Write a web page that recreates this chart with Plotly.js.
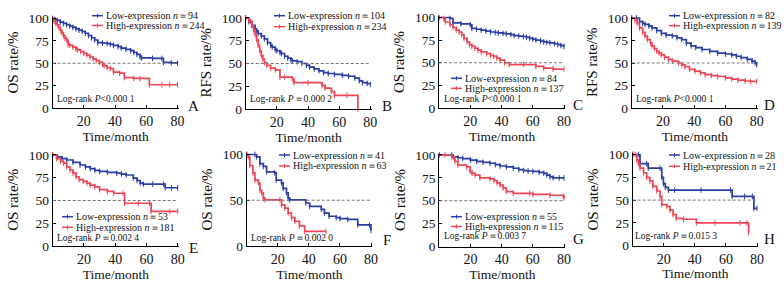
<!DOCTYPE html>
<html>
<head>
<meta charset="utf-8">
<script src="https://cdn.plot.ly/plotly-3.0.1.min.js"></script>
<style>html,body{margin:0;padding:0;background:#fff}#chart{width:784px;height:283px}</style>
</head>
<body>
<div id="chart"></div>
<script>
// ---------- DATA (time in months, survival %) ----------
const panelLetters = ["A","B","C","D","E","F","G","H"];
const yTitles = ["OS rate/%","RFS rate/%","OS rate/%","RFS rate/%","OS rate/%","OS rate/%","OS rate/%","OS rate/%"];
const lowN  = [94, 104, 84, 82, 53, 41, 55, 28];
const highN = [244, 234, 137, 139, 181, 63, 115, 21];
const pTexts = ["&lt;0.000 1","＝0.000 2","&lt;0.000 1","&lt;0.000 1","＝0.002 4","＝0.002 0","＝0.003 7","＝0.015 3"];
const xTicks = [20, 40, 60, 80];
const yTicksFull = [0, 25, 50, 75, 100];
const yTicksF = [0, 50, 100];

const A_low_t  = [0,1.5,3,5,7,9,11,13,15,17,19,21,23,25,27,29,32,35,37,39,42,44,47,50,52,54,56,57,64,70,71,76,80];
const A_low_s  = [100,99,98,96,94.5,93,91.5,90,88.5,87,85.5,83.5,81,78.5,76,73,72.5,72,71,70,68.5,67,65.5,64,62,60,57,56,55.5,55.5,51,50.5,50];
const A_high_t = [0,1,2,3,4,5,6,7,8,9,10,11,13,15,16,18,20,22,24,26,28,30,32,33,35,37,39,43,46,52,56,62,70,75,80];
const A_high_s = [100,97,95,93,90,87,84,81,78,76,71,70,68,66,65,63,61,59,57,55,53,51,49,47,45,44,40,39,34,33,33,26,26,26,26];

const B_low_t  = [0,2,4,6,7,8,10,12,14,16,17,19,20,22,23,25,27,29,30,33,36,39,41,44,47,50,53,57,62,66,70,73,75,78,80];
const B_low_s  = [100,96,92,88,86,83,80,77,73,70,68,65,64,62,61,58,56,54,53,52,50,48,46,44,42,40,39,38,37,36,34,31,29,28,27];
const B_high_t = [0,2,3,4,5,6,7,8,9,10,11,12,13.5,16,19,22,25,30,31,40,49,51,55,57,65,72];
const B_high_s = [100,98,96,92,87,82,76,70,64,59,55,51,48,45,43,35,35,33,29,29,26,23,19,15,15,0];

const C_low_t  = [0,7,9,14,20,21,24,27,30,33,36,38,41,43,46,48,51,54,56,58,60,62,65,67,69,71,74,76,78,80];
const C_low_s  = [100,99,94,93,92,88,87,86,85,84,83.5,83,82.5,82,81,80,79.5,79,78,77,76,75,74,73,72.5,72,71,70,69,68];
const C_high_t = [0,3,4,7,9,11,13,14.5,16,18,19.5,21,23,25,27,30.5,33,35,37,39,42,45,54,62,67,73,80];
const C_high_s = [100,99,95,92,89,86,84,81,77,73,70,68,66,64,62,60,58,57,55,53,50,48,48,46,44,43,43];

const D_low_t  = [0,3,5,7,8.5,11,13,16,19,22,26,29,32,35,38,41,45,50,55,60,64,67,70,74,77,79,80];
const D_low_s  = [100,100,96,94,93,91,89,86,83,81,80,78,76,72,69,67,65,63,61,60,59,57.5,56,54,52,50,48];
const D_high_t = [0,2,3.5,5,7,8.5,10,12,13,14.5,16,17.5,19,21,23.5,26,30,32,34,37,40.5,44,47,51,55,60,64,68,72.5,76,80];
const D_high_s = [100,98,94,89,84,80,76,72,69,66,63,61,59,56.5,54,52,50,48,46,43,41,39,37,36,35,33.5,32,31,30,29.5,29.5];

const E_low_t  = [0,3,6,9,13,17.5,21,24,27,30,35,41,44,47,51.6,54,56,58,64,71,72,76,80];
const E_low_s  = [100,98,96,94.5,92,89,87,85,83,82,81,80,79,78,74.7,72,69,68,68,68,64,64,64];
const E_high_t = [0,2.5,5,7,9,11,13,15,17,19.6,22,24,27,30,35,39,45,46,55,62,63,75,80];
const E_high_s = [100,96,93,91,87,83.5,80,76,73,71,69,67,65,62,60,58,58,47,47,47,38,38,38];

const F_low_t  = [0,5.3,6.4,8.5,10.7,12.8,18,19,22.4,23.5,25.6,26.7,27.7,38,40.5,48,50,53,57.6,60,65,71.5,79,80];
const F_low_s  = [100,100,97.5,90,87,81,80,72,69,63,58,52,50.5,47,43.3,40,36,32.5,31,30,29,23,23,17];
const F_high_t = [0,1,2,4,5.3,7.5,8.5,9.6,10.7,11.7,21.3,22.4,24.5,26.7,28.8,31,34,37.3,51];
const F_high_s = [100,97.5,88,80,72,69,61,58,52,50.5,50.5,45,41.5,36,31,27,22,16,16];

const G_low_t  = [0,8,9,12,15,20,24,28,32.5,36,39,43,47.5,51,54,57,60,64,67,69,71,73,77,80];
const G_low_s  = [100,100,98,97,96,94.5,93,92,91,89.5,88,87,85.5,84,83,82.5,82,81,80,78,76,75,75,75];
const G_high_t = [0,3.6,8,10,12,17.5,19.7,21,23,26,32.5,35,37,39,41,43,47.5,58,60,71,79.5,80];
const G_high_s = [100,100,98,93,89,87,82,80,78,75,74,72,69.5,67,64,60,58,58,57,56,55,53];

const H_low_t  = [0,3.7,4.7,9,10,17.6,18.7,19.8,21,23,27,44,63,64,72,77,78,80];
const H_low_s  = [100,100,90,90,85,85,75,68,64,61,61,61,61,54,54,54,41,41];
const H_high_t = [0,1.5,2.6,3.7,4.7,7,9,11,13,15.5,17.6,18.7,22,24,26,28,32.7,41,53,69,73.5,74.6];
const H_high_s = [100,100,94,90,85,80,75,71,65,60,54,45,43,39,34,30,29,25,25,25,25,14];

const lowT  = [A_low_t,B_low_t,C_low_t,D_low_t,E_low_t,F_low_t,G_low_t,H_low_t];
const lowS  = [A_low_s,B_low_s,C_low_s,D_low_s,E_low_s,F_low_s,G_low_s,H_low_s];
const highT = [A_high_t,B_high_t,C_high_t,D_high_t,E_high_t,F_high_t,G_high_t,H_high_t];
const highS = [A_high_s,B_high_s,C_high_s,D_high_s,E_high_s,F_high_s,G_high_s,H_high_s];

// ---------- LAYOUT GEOMETRY (pixels) ----------
const W = 784, H = 283;
const geo = [
  {x0:52.5, x1:177.5, yT:18.5, yB:108,  leg:{x:93, y1:15.7, y2:25.5}, lr:{x:55, y:98.5},  let:{x:193, y:106}},
  {x0:245.7,x1:370.3, yT:18,   yB:109,  leg:{x:275,y1:15.7, y2:26.7}, lr:{x:248,y:98.5},  let:{x:387, y:106}},
  {x0:439,  x1:564,   yT:17.5, yB:108,  leg:{x:452,y1:78.3, y2:88.3}, lr:{x:442,y:98.5},  let:{x:578, y:105}},
  {x0:631.7,x1:756.7, yT:18,   yB:108,  leg:{x:670,y1:15.7, y2:25.7}, lr:{x:634,y:98.5},  let:{x:769, y:105}},
  {x0:52.7, x1:177.7, yT:155,  yB:246,  leg:{x:63, y1:216.7,y2:227.3},lr:{x:55, y:237.7}, let:{x:193, y:247.5}},
  {x0:246.7,x1:371,   yT:154.5,yB:246,  leg:{x:280,y1:155,  y2:166},  lr:{x:249,y:237.5}, let:{x:387, y:240}},
  {x0:439.3,x1:564,   yT:155,  yB:246.5,leg:{x:452,y1:216.7,y2:226.5},lr:{x:442,y:235.5}, let:{x:578, y:239}},
  {x0:632.7,x1:757,   yT:154.5,yB:245.7,leg:{x:670,y1:155,  y2:166.3},lr:{x:633,y:236},   let:{x:769, y:239}}
];
const BLUE = "#2a3ea6", RED = "#ef4656";
const FONT = "Liberation Serif, Times New Roman, serif";
const XMAX = 80.8, YMAX = 101.5;

const px = x => x / W;
const py = y => 1 - y / H;

const traces = [];
const layout = {
  width: W, height: H,
  margin: {l:0, r:0, t:0, b:0},
  paper_bgcolor: "#fff", plot_bgcolor: "#fff",
  showlegend: false,
  font: {family: FONT, color: "#111"},
  annotations: [], shapes: []
};

geo.forEach((g, i) => {
  const k = i + 1;
  const xa = "xaxis" + (k === 1 ? "" : k), ya = "yaxis" + (k === 1 ? "" : k);
  const xr = "x" + (k === 1 ? "" : k), yr = "y" + (k === 1 ? "" : k);
  const pxPerX = (g.x1 - g.x0) / 80, pxPerY = (g.yB - g.yT) / 100;
  const xRight = g.x0 + XMAX * pxPerX, yTop = g.yB - YMAX * pxPerY;
  layout[xa] = {
    domain: [px(g.x0), px(xRight)], range: [0, XMAX], anchor: yr,
    showline: true, linecolor: "#000", linewidth: 1, showgrid: false, zeroline: false,
    ticks: "inside", ticklen: 3, tickcolor: "#000", tickvals: xTicks,
    tickfont: {family: FONT, size: 14, color: "#111"},
    title: {text: "Time/month", font: {family: FONT, size: 13.5, color: "#111"}, standoff: 2}
  };
  const yt = (i === 5) ? yTicksF : yTicksFull;
  layout[ya] = {
    domain: [py(g.yB), py(yTop)], range: [0, YMAX], anchor: xr,
    showline: true, linecolor: "#000", linewidth: 1, showgrid: false, zeroline: false,
    ticks: "inside", ticklen: 3, tickcolor: "#000", tickvals: yt,
    tickfont: {family: FONT, size: 13.5, color: "#111"},
    title: {text: yTitles[i], font: {family: FONT, size: 15, color: "#111"}, standoff: 6}
  };
  // reference dashed line at 50%
  layout.shapes.push({type: "line", xref: xr, yref: yr, x0: 0, x1: 80, y0: 50, y1: 50,
    line: {color: "#777", width: 1, dash: "3px,2px"}});

  [[lowT[i], lowS[i], BLUE], [highT[i], highS[i], RED]].forEach(([t, s, c]) => {
    traces.push({type: "scatter", mode: "lines+markers", x: t, y: s, xaxis: xr, yaxis: yr,
      line: {shape: "hv", color: c, width: 1.7},
      marker: {symbol: "line-ns", size: 4, line: {color: c, width: 1}, color: c},
      cliponaxis: false, hoverinfo: "skip"});
  });

  // legend (drawn manually)
  const legs = [[g.leg.y1, BLUE, "Low-expression <i>n</i>＝" + lowN[i]],
                [g.leg.y2, RED, "High-expression <i>n</i>＝" + highN[i]]];
  legs.forEach(([y, c, txt]) => {
    layout.shapes.push({type: "line", xref: "paper", yref: "paper",
      x0: px(g.leg.x - 1), x1: px(g.leg.x + 10), y0: py(y), y1: py(y), line: {color: c, width: 1.5}});
    layout.shapes.push({type: "line", xref: "paper", yref: "paper",
      x0: px(g.leg.x + 4.5), x1: px(g.leg.x + 4.5), y0: py(y - 2), y1: py(y + 2), line: {color: c, width: 1}});
    layout.annotations.push({xref: "paper", yref: "paper", x: px(g.leg.x + 10.5), y: py(y),
      xanchor: "left", yanchor: "middle", showarrow: false, text: txt,
      font: {family: FONT, size: 10, color: "#111"}});
  });
  layout.annotations.push({xref: "paper", yref: "paper", x: px(g.lr.x), y: py(g.lr.y),
    xanchor: "left", yanchor: "middle", showarrow: false,
    text: "Log-rank <i>P</i>" + pTexts[i], font: {family: FONT, size: 9.5, color: "#111"}});
  layout.annotations.push({xref: "paper", yref: "paper", x: px(g.let.x), y: py(g.let.y),
    xanchor: "center", yanchor: "middle", showarrow: false,
    text: panelLetters[i], font: {family: FONT, size: 15, color: "#111"}});
});

Plotly.newPlot("chart", traces, layout, {staticPlot: true, displayModeBar: false});
</script>
</body>
</html>
